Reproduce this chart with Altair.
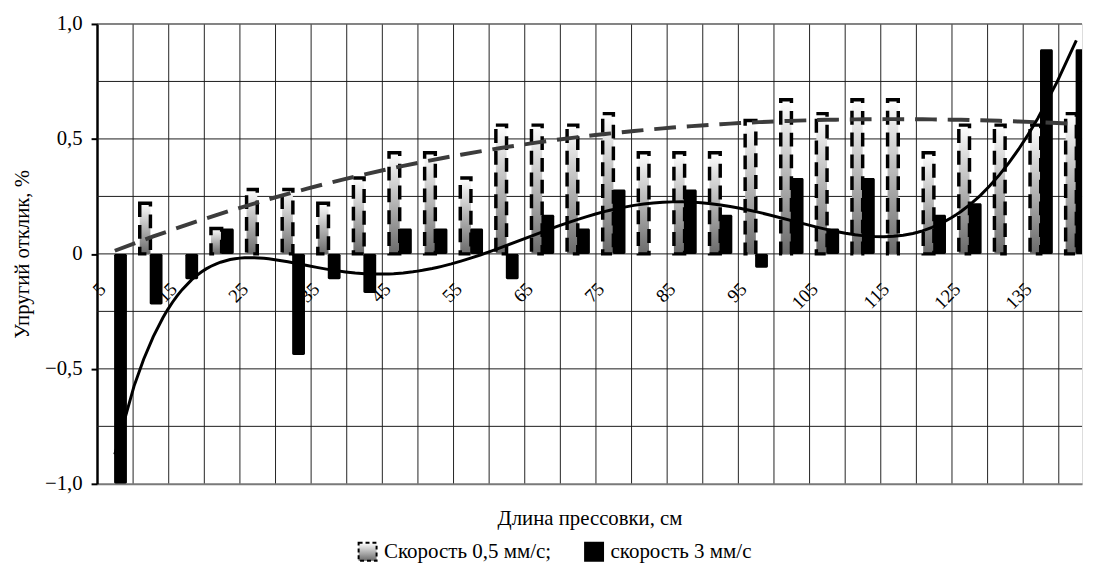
import altair as alt
import pandas as pd

# ---------------- data ----------------
lengths = [5, 10, 15, 20, 25, 30, 35, 40, 45, 50, 55, 60, 65, 70,
           75, 80, 85, 90, 95, 100, 105, 110, 115, 120, 125, 130, 135, 140]
slow = [0.0, 0.22, 0.0, 0.11, 0.28, 0.28, 0.22, 0.33, 0.44, 0.44, 0.33, 0.56, 0.56, 0.56,
        0.61, 0.44, 0.44, 0.44, 0.58, 0.67, 0.61, 0.67, 0.67, 0.44, 0.56, 0.56, 0.56, 0.61]
fast = [-1.0, -0.22, -0.11, 0.11, 0.0, -0.44, -0.11, -0.17, 0.11, 0.11, 0.11, -0.11, 0.17, 0.11,
        0.28, 0.0, 0.28, 0.17, -0.06, 0.33, 0.11, 0.33, 0.0, 0.17, 0.22, 0.0, 0.89, 0.89]
tick_labels = [5, 15, 25, 35, 45, 55, 65, 75, 85, 95, 105, 115, 125, 135]
y_ticks = [-1.0, -0.5, 0.0, 0.5, 1.0]
y_grid = [-0.75, -0.5, -0.25, 0.0, 0.25, 0.5, 0.75, 1.0]
legend_labels = ["Скорость 0,5 мм/с;", "скорость 3 мм/с"]

df = pd.DataFrame({"L": lengths, "slow": slow, "fast": fast})

FONT = "Liberation Serif, Times New Roman, serif"
xscale = alt.Scale(domain=[5, 143.3], nice=False, zero=False)
yscale = alt.Scale(domain=[-1, 1], nice=False, zero=False)

grad = alt.Gradient(
    gradient="linear",
    stops=[alt.GradientStop(color="#ffffff", offset=0),
           alt.GradientStop(color="#6a6a6a", offset=1)],
    x1=0, x2=0, y1=0, y2=1,
)

x_axis = alt.Axis(values=lengths, grid=True, gridColor="#222222", gridWidth=1,
                  labels=False, ticks=False, domainColor="#7a7a7a", domainWidth=2,
                  title="Длина прессовки, см", titleFont=FONT, titleFontSize=21,
                  titleFontWeight="normal", titleColor="black", titlePadding=24)
y_axis = alt.Axis(values=y_ticks, grid=False, tickSize=6, tickWidth=2, tickColor="black",
                  domainColor="black", domainWidth=2.5,
                  labelExpr="datum.value == 0 ? '0' : replace(format(datum.value, '.1f'), '.', ',')",
                  labelFont=FONT, labelFontSize=21, labelColor="black", labelPadding=9,
                  title="Упругий отклик, %", titleFont=FONT, titleFontSize=21,
                  titleFontWeight="normal", titleColor="black", titlePadding=12)


def X(field):
    return alt.X(field, scale=xscale, axis=x_axis)


def Y(field):
    return alt.Y(field, scale=yscale, axis=y_axis)


grid_h = alt.Chart(pd.DataFrame({"v": y_grid})).mark_rule(color="#1a1a1a", strokeWidth=1).encode(
    y=Y("v:Q")
)

slow_bars = alt.Chart(df).transform_filter("datum.slow != 0").transform_calculate(
    x0="datum.L + 1.0", x1="datum.L + 2.5"
).mark_bar(fill=grad, stroke="black", strokeWidth=3.5, strokeDash=[14, 8], clip=True).encode(
    x=X("x0:Q"),
    x2="x1:Q",
    y=Y("slow:Q"),
    y2=alt.datum(0),
)

fast_bars = alt.Chart(df).transform_filter("datum.fast != 0").transform_calculate(
    x0="datum.L + 2.4", x1="datum.L + 4.2"
).mark_bar(color="black", cornerRadius=1.5, clip=True).encode(
    x=X("x0:Q"),
    x2="x1:Q",
    y=Y("fast:Q"),
    y2=alt.datum(0),
)

slow_trend = alt.Chart(df).transform_regression(
    "L", "slow", method="poly", order=3
).transform_calculate(xc="datum.L + 2.5").mark_line(
    color="#3c3c3c", strokeWidth=4, strokeDash=[22, 11]
).encode(x=X("xc:Q"), y=Y("slow:Q"))

fast_trend = alt.Chart(df).transform_regression(
    "L", "fast", method="poly", order=6
).transform_calculate(xc="datum.L + 2.5").mark_line(
    color="black", strokeWidth=3
).encode(
    x=X("xc:Q"),
    y=Y("fast:Q"),
)

tick_text = alt.Chart(pd.DataFrame({"v": tick_labels})).transform_calculate(
    xl="datum.v + 0.8", yl="-0.14", txt="toString(datum.v)"
).mark_text(angle=315, align="right", baseline="middle", font=FONT, fontSize=19,
            color="black").encode(
    x=X("xl:Q"),
    y=Y("yl:Q"),
    text="txt:N",
)

legend_carrier = alt.Chart(pd.DataFrame({"s": legend_labels})).mark_square(
    size=0, opacity=1, stroke="black", strokeWidth=2
).encode(
    fill=alt.Fill("s:N", scale=alt.Scale(
        domain=legend_labels,
        range=[alt.ExprRef(expr="{gradient: 'linear', x1: 0, y1: 0, x2: 0, y2: 1, "
                                 "stops: [{offset: 0, color: '#ffffff'}, {offset: 1, color: '#6a6a6a'}]}"),
               "#000000"]),
        legend=alt.Legend(orient="none", legendX=263, legendY=523, direction="horizontal",
                          title=None, symbolType="square", symbolSize=330, symbolOpacity=1,
                          symbolStrokeColor="black", symbolStrokeWidth=2,
                          labelFont=FONT, labelFontSize=21.2, labelColor="black",
                          labelOffset=6, columnPadding=29, labelLimit=400)),
    strokeDash=alt.StrokeDash("s:N", scale=alt.Scale(domain=legend_labels,
                                                       range=[[4, 3], [1, 0]]),
                              legend=alt.Legend(orient="none", legendX=263, legendY=523,
                                                direction="horizontal", title=None)),
)

chart = alt.layer(
    grid_h, slow_bars, fast_bars, slow_trend, fast_trend, tick_text, legend_carrier
).properties(
    width=996, height=465,
    padding={"left": 3, "top": 2, "right": 0, "bottom": 2},
).configure_view(stroke=None).configure(background="white")

chart.save("out.html", embed_options={"renderer": "svg", "actions": False})
